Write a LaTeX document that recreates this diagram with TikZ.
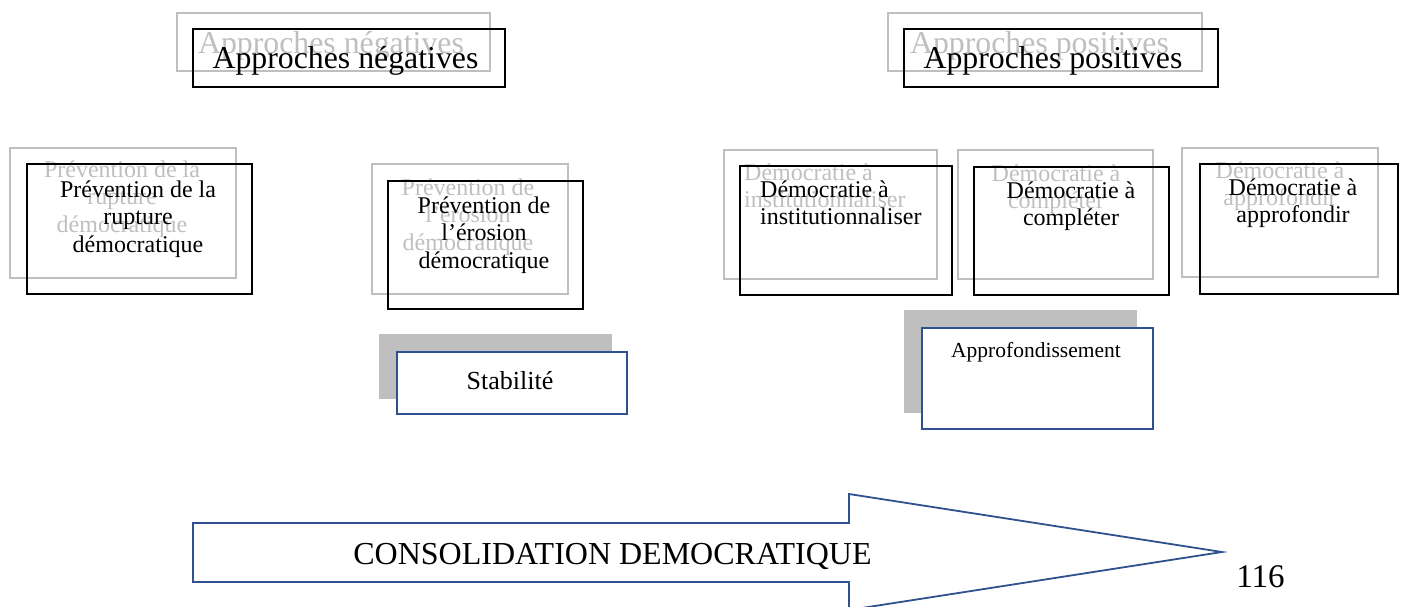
\documentclass[tikz,border=0pt]{standalone}
\usepackage{fontspec}
\setmainfont{Liberation Serif}
\definecolor{ghostgray}{HTML}{BFBFBF}
\definecolor{shapeblue}{HTML}{2F528F}
\newcommand{\stkc}[1]{\begin{tabular}[t]{@{}c@{}}#1\end{tabular}}
\newcommand{\stkl}[1]{\begin{tabular}[t]{@{}l@{}}#1\end{tabular}}
\tikzset{
  box/.style={rectangle, inner sep=0pt, anchor=north west, line width=1.8pt},
  ghostbox/.style={box, draw=ghostgray},
  framebox/.style={box, draw=black},
  shadowbox/.style={box, fill=ghostgray},
  bluebox/.style={box, draw=shapeblue, fill=white},
  label/.style={inner sep=0pt, anchor=base, font=\fontsize{24}{27.5}\selectfont},
  ghosttext/.style={label, text=ghostgray},
  title/.style={inner sep=0pt, anchor=base, font=\fontsize{31.8}{36}\selectfont},
}
\begin{document}
\begin{tikzpicture}[x=1pt, y=-1pt]
\useasboundingbox (0,0) rectangle (1401,606);

% ---- Approches négatives ----
\node[ghostbox, minimum width=313pt, minimum height=58pt] (negG) at (176,12) {};
\node[title, text=ghostgray] (negGt) at (331,53) {Approches négatives};
\node[framebox, minimum width=312pt, minimum height=58pt] (neg) at (192,28) {};
\node[title] (negt) at (345.5,68) {Approches négatives};

% ---- Approches positives ----
\node[ghostbox, minimum width=314pt, minimum height=58pt] (posG) at (887,12) {};
\node[title, text=ghostgray] (posGt) at (1039.5,53) {Approches positives};
\node[framebox, minimum width=314pt, minimum height=58pt] (pos) at (903,28) {};
\node[title] (post) at (1053,68) {Approches positives};

% ---- Prévention de la rupture démocratique ----
\node[ghostbox, minimum width=226pt, minimum height=130pt] (ruptG) at (9,147) {};
\node[ghosttext] (ruptGt) at (122,177) {\stkc{Prévention de la\\rupture\\démocratique}};
\node[framebox, minimum width=225pt, minimum height=130pt] (rupt) at (26,163) {};
\node[label] (ruptt) at (138,197) {\stkc{Prévention de la\\rupture\\démocratique}};

% ---- Prévention de l'érosion démocratique ----
\node[ghostbox, minimum width=196pt, minimum height=130pt] (erosG) at (371,163) {};
\node[ghosttext] (erosGt) at (468,195) {\stkc{Prévention de\\l’érosion\\démocratique}};
\node[framebox, minimum width=195pt, minimum height=128pt] (eros) at (387,180) {};
\node[label] (erost) at (484,213) {\stkc{Prévention de\\l’érosion\\démocratique}};

% ---- Stabilité ----
\node[shadowbox, minimum width=233pt, minimum height=65pt] (stabS) at (378,333) {};
\node[bluebox, minimum width=230pt, minimum height=62pt] (stab) at (396,351) {};
\node[label, font=\fontsize{26}{30}\selectfont] (stabt) at (510,389) {Stabilité};

% ---- Démocratie à institutionnaliser ----
\node[ghostbox, minimum width=213pt, minimum height=129pt] (instG) at (723,149) {};
\node[ghosttext, anchor=base west] (instGt) at (744,180) {\stkl{Démocratie à\\institutionnaliser}};
\node[framebox, minimum width=212pt, minimum height=129pt] (inst) at (739,165) {};
\node[label, anchor=base west] (instt) at (760,197) {\stkl{Démocratie à\\institutionnaliser}};

% ---- Démocratie à compléter ----
\node[ghostbox, minimum width=195pt, minimum height=129pt] (complG) at (957,149) {};
\node[ghosttext] (complGt) at (1056,181) {\stkc{Démocratie à\\compléter}};
\node[framebox, minimum width=195pt, minimum height=128pt] (compl) at (973,166) {};
\node[label] (complt) at (1071,198) {\stkc{Démocratie à\\compléter}};

% ---- Démocratie à approfondir ----
\node[ghostbox, minimum width=196pt, minimum height=129pt] (approG) at (1181,147) {};
\node[ghosttext] (approGt) at (1280,178) {\stkc{Démocratie à\\approfondir}};
\node[framebox, minimum width=198pt, minimum height=130pt] (appro) at (1199,163) {};
\node[label] (approt) at (1293,195) {\stkc{Démocratie à\\approfondir}};

% ---- Approfondissement ----
\node[shadowbox, minimum width=233pt, minimum height=103pt] (deepS) at (903,309) {};
\node[bluebox, minimum width=231pt, minimum height=101pt] (deep) at (921,327) {};
\node[label, font=\fontsize{21.5}{25}\selectfont] (deept) at (1036,357) {Approfondissement};

% ---- Consolidation arrow ----
\draw[shapeblue, line width=1.8pt, line join=miter, fill=white]
  (193,523) -- (849,523) -- (849,494) -- (1222,552) -- (849,610)
  -- (849,582) -- (193,582) -- cycle;
\node[title, font=\fontsize{32}{36}\selectfont] (cons) at (612.5,564) {CONSOLIDATION DEMOCRATIQUE};

% ---- page number ----
\node[title, font=\fontsize{33}{36}\selectfont] (page) at (1260.5,587) {116};
\end{tikzpicture}
\end{document}
